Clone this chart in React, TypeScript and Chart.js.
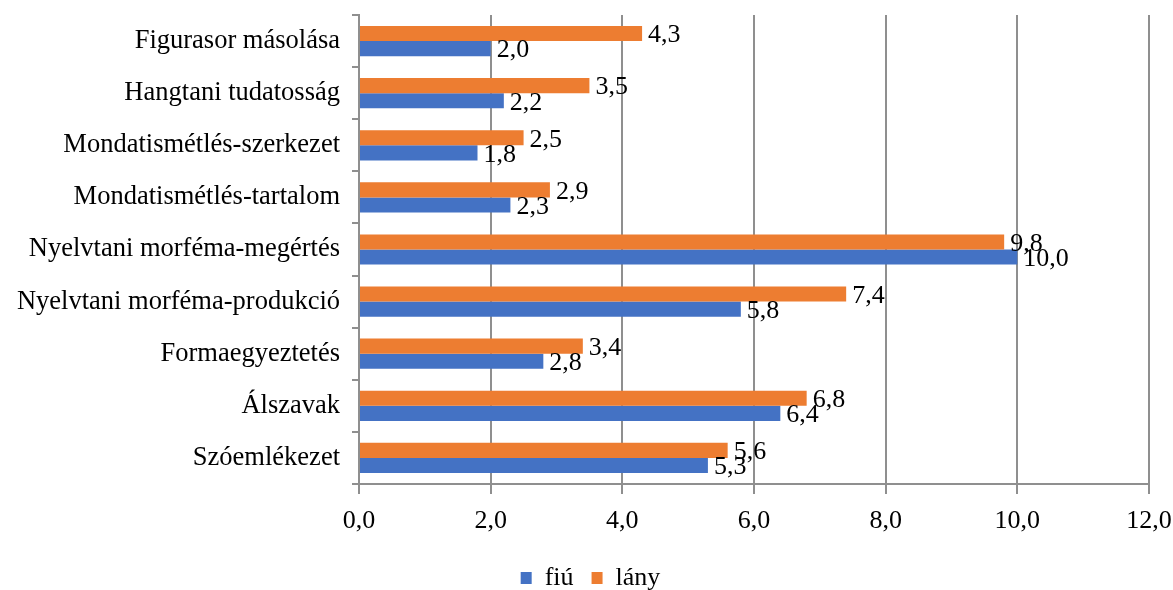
import React, { useEffect, useRef } from "react";
import { Chart, registerables } from "chart.js";

Chart.register(...registerables);

const categories = [
  "Figurasor másolása",
  "Hangtani tudatosság",
  "Mondatismétlés-szerkezet",
  "Mondatismétlés-tartalom",
  "Nyelvtani morféma-megértés",
  "Nyelvtani morféma-produkció",
  "Formaegyeztetés",
  "Álszavak",
  "Szóemlékezet",
];
const fiuValues = [2.0, 2.2, 1.8, 2.3, 10.0, 5.8, 2.8, 6.4, 5.3];
const lanyValues = [4.3, 3.5, 2.5, 2.9, 9.8, 7.4, 3.4, 6.8, 5.6];
const xTicks = [0, 2, 4, 6, 8, 10, 12];

const FONT = "'Liberation Serif', 'Times New Roman', serif";
const FS = 26;
const GRID = "#8f8f8f";
const fmt = (v: number) => v.toFixed(1).replace(".", ",");

const dataLabels = {
  id: "dataLabels",
  afterDatasetsDraw(chart: any) {
    const ctx = chart.ctx;
    ctx.save();
    ctx.font = `${FS}px ${FONT}`;
    ctx.fillStyle = "#000";
    ctx.textAlign = "left";
    ctx.textBaseline = "middle";
    chart.data.datasets.forEach((ds: any, di: number) => {
      const meta = chart.getDatasetMeta(di);
      meta.data.forEach((bar: any, i: number) => {
        ctx.fillText(fmt(ds.data[i]), bar.x + 6, bar.y + 2);
      });
    });
    ctx.restore();
  },
};

const legendShift = {
  id: "legendShift",
  afterLayout(chart: any) {
    const lg = chart.legend;
    if (!lg) return;
    lg.left += 16;
    lg.right += 16;
    lg.top -= 9;
    lg.bottom -= 9;
  },
};

export default function App() {
  const ref = useRef<HTMLCanvasElement>(null);
  useEffect(() => {
    const chart = new Chart(ref.current!, {
      type: "bar",
      data: {
        labels: categories,
        datasets: [
          {
            label: "lány",
            data: lanyValues,
            backgroundColor: "#ED7D31",
            barPercentage: 1,
            categoryPercentage: 0.58,
          },
          {
            label: "fiú",
            data: fiuValues,
            backgroundColor: "#4472C4",
            barPercentage: 1,
            categoryPercentage: 0.58,
          },
        ],
      },
      options: {
        indexAxis: "y",
        animation: false,
        responsive: false,
        layout: { padding: { left: 0, right: 24, top: 15, bottom: 0 } },
        scales: {
          x: {
            min: 0,
            max: 12,
            afterBuildTicks: (scale: any) => {
              scale.ticks = xTicks.map((v) => ({ value: v }));
            },
            ticks: {
              font: { family: FONT, size: FS },
              color: "#000",
              padding: 12,
              callback: (v: any) => fmt(Number(v)),
              maxRotation: 0,
            },
            grid: {
              color: GRID,
              lineWidth: 2,
              tickLength: 10,
              drawTicks: true,
            },
            border: { color: GRID, width: 2 },
            afterFit: (scale: any) => {
              scale.height = 72;
              scale.paddingLeft = 0;
              scale.paddingRight = 0;
            },
          },
          y: {
            ticks: {
              font: { family: FONT, size: 26.5 },
              color: "#000",
              padding: 12,
            },
            grid: {
              offset: true,
              drawOnChartArea: false,
              color: GRID,
              lineWidth: 2,
              tickLength: 7,
            },
            border: { color: GRID, width: 2 },
            afterFit: (scale: any) => {
              scale.width = 359;
              scale.paddingTop = 0;
              scale.paddingBottom = 0;
            },
          },
        },
        plugins: {
          legend: {
            position: "bottom",
            labels: {
              font: { family: FONT, size: FS },
              color: "#000",
              boxWidth: 11,
              boxHeight: 12,
              padding: 18,
              sort: (a: any, b: any) => b.datasetIndex - a.datasetIndex,
            },
          },
          tooltip: { enabled: false },
        },
      },
      plugins: [dataLabels, legendShift],
    });
    return () => chart.destroy();
  }, []);
  return (
    <div style={{ position: "fixed", left: 0, top: 0, width: 1173, height: 610 }}>
      <canvas ref={ref} width={1173} height={610} style={{ width: 1173, height: 610 }} />
    </div>
  );
}
